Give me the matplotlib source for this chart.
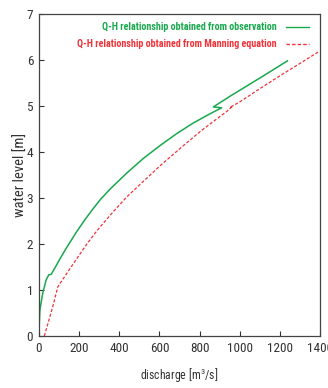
import numpy as np
import matplotlib
matplotlib.use("Agg")
import matplotlib.pyplot as plt
from matplotlib import font_manager

# pick a narrow sans if there is one
names = set(f.name for f in font_manager.fontManager.ttflist)
narrow = None
for cand in ['Liberation Sans Narrow', 'Arial Narrow', 'Roboto Condensed',
             'Open Sans Condensed']:
    if cand in names:
        narrow = cand
        break
if narrow:
    plt.rcParams['font.family'] = [narrow, 'DejaVu Sans']
    tick_size, xlab_size, ylab_size, leg_size = 9.5, 8.5, 10.5, 7.2
else:
    plt.rcParams['font.family'] = ['Liberation Sans', 'DejaVu Sans']
    tick_size, xlab_size, ylab_size, leg_size = 9, 8, 9.5, 6.3
plt.rcParams['mathtext.default'] = 'regular'

# Q-H curve
obs_q = [0, 6, 20, 37, 50, 62, 87, 106, 137, 189, 230, 271, 307, 354, 406,
         437, 520, 603, 686, 768, 851, 909, 868, 950, 1006, 1122, 1236]
obs_h = [0, 0.57, 0.93, 1.22, 1.33, 1.34, 1.53, 1.68, 1.91, 2.27, 2.53, 2.77,
         2.97, 3.19, 3.41, 3.54, 3.86, 4.14, 4.40, 4.63, 4.83, 4.96, 4.98,
         5.21, 5.36, 5.67, 5.98]

# Q-H curve from Manning equation
man_q = [28, 70, 95, 153, 172, 236, 288, 307, 370, 437, 473, 603, 698, 801,
         900, 934, 962, 955, 1003, 1100, 1200, 1300, 1391]
man_h = [0, 0.64, 1.07, 1.45, 1.57, 1.98, 2.28, 2.38, 2.70, 3.02, 3.17, 3.70,
         4.06, 4.44, 4.77, 4.88, 4.99, 4.98, 5.10, 5.38, 5.66, 5.93, 6.18]

labels = ['Q-H relationship obtained from observation',
          'Q-H relationship obtained from Manning equation']
green = '#19a84e'
red = '#f0333a'

fig = plt.figure(figsize=(3.28, 3.88), dpi=100)
ax = fig.add_axes([0.118, 0.134, 0.859, 0.83])

ax.plot(obs_q, obs_h, color=green, lw=1.1)
ax.plot(man_q, man_h, color=red, lw=0.9, ls=(0, (2.5, 1.5)))

ax.set_xlim(0, 1400)
ax.set_ylim(0, 7)
ax.set_xticks(np.arange(0, 1401, 200))
ax.set_yticks(np.arange(0, 8, 1))
ax.tick_params(direction='in', length=3.5, width=0.8, labelsize=tick_size,
               colors='#333333', pad=4)
for s in ax.spines.values():
    s.set_color('#444444')
    s.set_linewidth(0.9)

ax.set_xlabel('discharge [m$^3$/s]', fontsize=xlab_size, color='#333333',
              labelpad=9)
ax.set_ylabel('water level [m]', fontsize=ylab_size, color='#333333',
              labelpad=-1)

# key, text right aligned and coloured like its line
for i, (lab, col, ls) in enumerate(zip(labels, [green, red],
                                       ['-', (0, (2.5, 1.5))])):
    y = 0.958 - i * 0.05
    ax.text(0.845, y, lab, transform=ax.transAxes, ha='right', va='center',
            color=col, fontsize=leg_size, fontweight='bold')
    ax.plot([0.878, 0.960], [y, y], transform=ax.transAxes, color=col,
            lw=1.0, ls=ls)

fig.savefig('out.png', dpi=100)
